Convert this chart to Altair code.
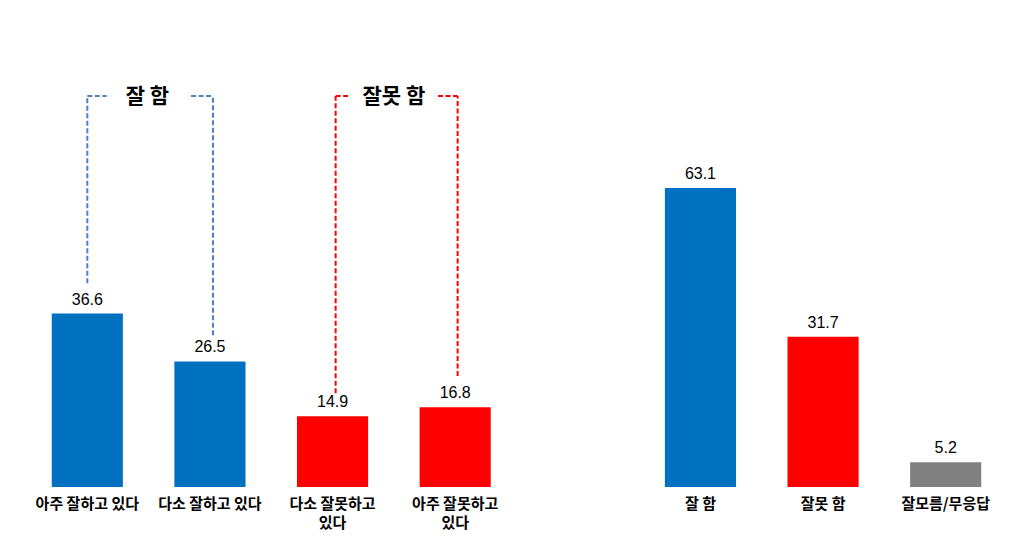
import altair as alt
import pandas as pd

# Data
categories = ["아주 잘하고 있다", "다소 잘하고 있다", "다소 잘못하고|있다", "아주 잘못하고|있다",
              "잘 함", "잘못 함", "잘모름/무응답"]
positions = [0, 1, 2, 3, 5, 6, 7]
values = [36.6, 26.5, 14.9, 16.8, 63.1, 31.7, 5.2]
colors = ["#0070C0", "#0070C0", "#FF0000", "#FF0000", "#0070C0", "#FF0000", "#808080"]

# Bracket annotations (data units)
bracket_labels = ["잘 함", "잘못 함"]
bracket_label_x = [0.49, 2.5]
bracket_colors = ["#4F81BD", "#FF0000"]
bracket_left = [0.0, 2.025]
bracket_right = [1.025, 3.02]
bracket_gap_left = [0.158, 2.126]
bracket_gap_right = [0.846, 2.86]
bracket_top = [82.5, 82.5]
bracket_left_bottom = [43.0, 19.8]
bracket_right_bottom = [32.0, 23.4]

bars = pd.DataFrame({
    "pos": positions, "value": values, "color": colors, "label": categories,
})
bars["zero"] = 0

segs = []
for i in range(2):
    c = bracket_colors[i]
    segs.append(dict(x=bracket_left[i], x2=bracket_left[i], y=bracket_left_bottom[i], y2=bracket_top[i], color=c))
    segs.append(dict(x=bracket_left[i], x2=bracket_gap_left[i], y=bracket_top[i], y2=bracket_top[i], color=c))
    segs.append(dict(x=bracket_gap_right[i], x2=bracket_right[i], y=bracket_top[i], y2=bracket_top[i], color=c))
    segs.append(dict(x=bracket_right[i], x2=bracket_right[i], y=bracket_right_bottom[i], y2=bracket_top[i], color=c))
segs = pd.DataFrame(segs)

btext = pd.DataFrame({"x": bracket_label_x, "y": bracket_top, "label": bracket_labels})

xscale = alt.Scale(domain=[-0.5, 7.5], nice=False, zero=False)
yscale = alt.Scale(domain=[0, 100], nice=False)

base = alt.Chart(bars).transform_calculate(
    x0="datum.pos - 0.29", x1="datum.pos + 0.29"
)

bar_layer = base.mark_rect().encode(
    x=alt.X("x0:Q", scale=xscale, axis=None),
    x2="x1:Q",
    y=alt.Y("value:Q", scale=yscale, axis=None),
    y2="zero:Q",
    color=alt.Color("color:N", scale=None),
)

value_layer = base.mark_text(
    font="Liberation Sans", fontSize=16, baseline="bottom", dy=-6, color="black"
).encode(
    x=alt.X("pos:Q", scale=xscale, axis=None),
    y=alt.Y("value:Q", scale=yscale, axis=None),
    text=alt.Text("value:Q", format=".1f"),
)

cat_layer = base.transform_calculate(
    lines="split(datum.label, '|')"
).mark_text(
    font="Noto Sans CJK KR", fontSize=15, fontWeight="bold", baseline="top",
    dy=10, lineHeight=19, color="black"
).encode(
    x=alt.X("pos:Q", scale=xscale, axis=None),
    y=alt.Y("zero:Q", scale=yscale, axis=None),
    text="lines:N",
)

seg_layer = alt.Chart(segs).mark_rule(strokeWidth=2, strokeDash=[5, 2.5]).encode(
    x=alt.X("x:Q", scale=xscale, axis=None),
    x2="x2:Q",
    y=alt.Y("y:Q", scale=yscale, axis=None),
    y2="y2:Q",
    color=alt.Color("color:N", scale=None),
)

btext_layer = alt.Chart(btext).mark_text(
    font="Noto Sans CJK KR", fontSize=21, fontWeight="bold", baseline="middle",
    dy=1, color="black"
).encode(
    x=alt.X("x:Q", scale=xscale, axis=None),
    y=alt.Y("y:Q", scale=yscale, axis=None),
    text="label:N",
)

chart = alt.layer(bar_layer, seg_layer, value_layer, cat_layer, btext_layer).properties(
    width=981, height=474,
    padding={"left": 18, "top": 5, "right": 5, "bottom": 50},
    autosize=alt.AutoSizeParams(type="none"),
    background="white",
).configure_view(stroke=None)

chart.save("out.html", embed_options={"renderer": "svg", "actions": False})
